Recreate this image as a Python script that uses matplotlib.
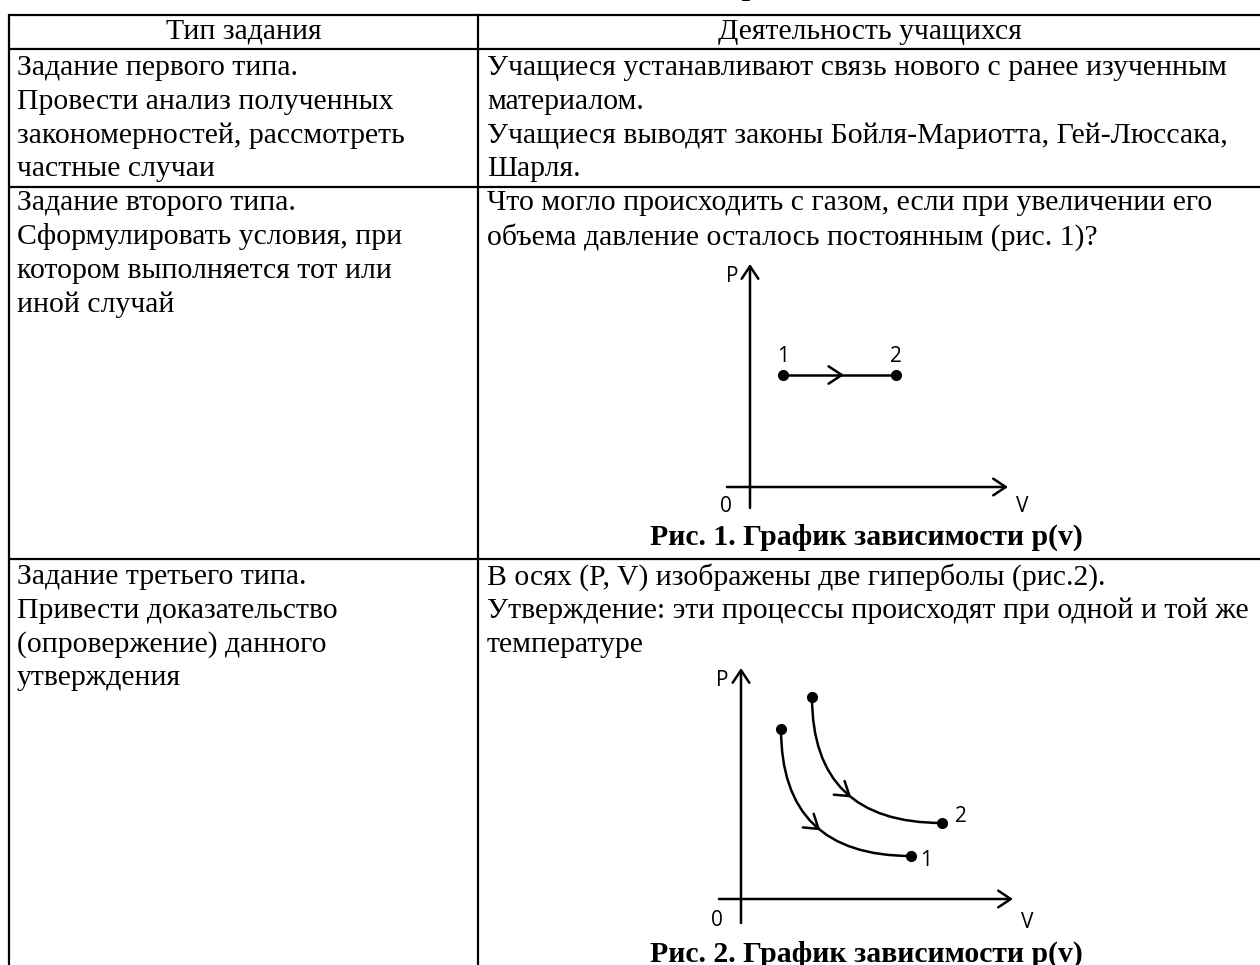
import numpy as np
import matplotlib.pyplot as plt
from matplotlib.path import Path
from matplotlib.patches import PathPatch

# table text
header = ['Тип задания', 'Деятельность учащихся']
task_types = [
    ['Задание первого типа.', 'Провести анализ полученных',
     'закономерностей, рассмотреть', 'частные случаи'],
    ['Задание второго типа.', 'Сформулировать условия, при',
     'котором выполняется тот или', 'иной случай'],
    ['Задание третьего типа.', 'Привести доказательство',
     '(опровержение) данного', 'утверждения'],
]
activities = [
    ['Учащиеся устанавливают связь нового с ранее изученным',
     'материалом.',
     'Учащиеся выводят законы Бойля-Мариотта, Гей-Люссака,',
     'Шарля.'],
    ['Что могло происходить с газом, если при увеличении его',
     'объема давление осталось постоянным (рис. 1)?'],
    ['В осях (P, V) изображены две гиперболы (рис.2).',
     'Утверждение: эти процессы происходят при одной и той же',
     'температуре'],
]
captions = ['Рис. 1. График зависимости p(v)', 'Рис. 2. График зависимости p(v)']
title = 'Типология проблемных заданий'

# рис. 1: изобарный процесс 1 -> 2 (условные единицы)
isobar_v = [3.3, 14.6]
isobar_p = [11.2, 11.2]
isobar_labels = ['1', '2']

# рис. 2: две гиперболы, начало и конец каждой
hyp1_v = [4.0, 17.0]
hyp1_p = [17.0, 4.3]
hyp2_v = [7.1, 20.1]
hyp2_p = [20.2, 7.6]

W, H = 1260, 965
serif = 'Liberation Serif'
sans = 'Open Sans'
fs = 21.4

fig = plt.figure(figsize=(W / 100, H / 100), dpi=100)
ax = fig.add_axes([0, 0, 1, 1])
ax.set_xlim(0, W)
ax.set_ylim(H, 0)
ax.axis('off')

# table grid
x_left, x_mid, x_right = 9, 478, W
row_lines = [15, 49, 187, 559]
lw = 1.6
for y in row_lines:
    ax.plot([x_left, x_right], [y, y], color='black', lw=lw, solid_capstyle='butt')
ax.plot([x_left, x_left], [row_lines[0], H], color='black', lw=lw)
ax.plot([x_mid, x_mid], [row_lines[0], H], color='black', lw=lw)

# title (cut off at the top, only descenders show)
ax.text(790, -5, title, fontsize=fs, fontweight='bold', family=serif,
        ha='center', va='baseline')

# header
ax.text((x_left + x_mid) / 2, 32, header[0], fontsize=fs, family=serif,
        ha='center', va='center')
ax.text(870, 32, header[1], fontsize=fs, family=serif, ha='center', va='center')

pitch = 33.8
row_starts = [68, 203, 577]
for r in range(3):
    for i, line in enumerate(task_types[r]):
        ax.text(17, row_starts[r] + i * pitch, line, fontsize=fs, family=serif,
                ha='left', va='center')
    for i, line in enumerate(activities[r]):
        ax.text(487, row_starts[r] + i * pitch, line, fontsize=fs, family=serif,
                ha='left', va='center')

ax.text(866, 537, captions[0], fontsize=fs, fontweight='bold', family=serif,
        ha='center', va='center')
ax.text(866, 954, captions[1], fontsize=fs, fontweight='bold', family=serif,
        ha='center', va='center')


def diagram_axes(x0, x1, y_top, y_bot, ox, oy):
    # inset axes laid out in pixels, 10 px per unit, origin at (ox, oy)
    a = fig.add_axes([x0 / W, 1 - y_bot / H, (x1 - x0) / W, (y_bot - y_top) / H])
    a.set_xlim((x0 - ox) / 10, (x1 - ox) / 10)
    a.set_ylim((oy - y_bot) / 10, (oy - y_top) / 10)
    a.axis('off')
    xmin, xmax = a.get_xlim()
    ymin, ymax = a.get_ylim()
    head = dict(arrowstyle='->,head_length=0.45,head_width=0.3', lw=1.8,
                color='black', shrinkA=0, shrinkB=0, mutation_scale=20)
    a.annotate('', xy=(xmax, 0), xytext=(xmin, 0), arrowprops=head)
    a.annotate('', xy=(0, ymax), xytext=(0, ymin), arrowprops=head)
    return a


mid_head = dict(arrowstyle='->,head_length=0.5,head_width=0.33', lw=1.8,
                color='black', shrinkA=0, shrinkB=0, mutation_scale=19)
lab = dict(fontsize=15, family=sans, ha='center', va='center')

# рис. 1
a1 = diagram_axes(727, 1008, 264, 508, 750, 487)
a1.plot(isobar_v, isobar_p, color='black', lw=1.8, marker='o', markersize=7)
mv = isobar_v[0] + 0.54 * (isobar_v[1] - isobar_v[0])
a1.annotate('', xy=(mv, isobar_p[0]), xytext=(mv - 0.5, isobar_p[0]), arrowprops=mid_head)
for v, p, t in zip(isobar_v, isobar_p, isobar_labels):
    a1.text(v, p + 1.9, t, **lab)
a1.text(-1.8, 21.0, 'P', **lab)
a1.text(-2.4, -2.0, '0', **lab)
a1.text(27.2, -2.0, 'V', **lab)

# рис. 2
a2 = diagram_axes(719, 1013, 668, 923, 741, 899)
for vv, pp in [(hyp1_v, hyp1_p), (hyp2_v, hyp2_p)]:
    p0 = np.array([vv[0], pp[0]])
    c = np.array([vv[0], pp[1]])
    p2 = np.array([vv[1], pp[1]])
    path = Path([p0, c, p2], [Path.MOVETO, Path.CURVE3, Path.CURVE3])
    a2.add_patch(PathPatch(path, fill=False, lw=1.8, edgecolor='black'))
    a2.plot([p0[0], p2[0]], [p0[1], p2[1]], 'o', color='black', markersize=7)
    t = 0.55
    tip = (1 - t) ** 2 * p0 + 2 * t * (1 - t) * c + t ** 2 * p2
    d = 2 * (1 - t) * (c - p0) + 2 * t * (p2 - c)
    d = d / np.linalg.norm(d)
    a2.annotate('', xy=tip, xytext=tip - 0.5 * d, arrowprops=mid_head)
a2.text(22.0, 8.2, '2', **lab)
a2.text(18.5, 3.9, '1', **lab)
a2.text(-1.9, 21.9, 'P', **lab)
a2.text(-2.4, -2.1, '0', **lab)
a2.text(28.6, -2.3, 'V', **lab)

fig.savefig('out.png', dpi=100)
